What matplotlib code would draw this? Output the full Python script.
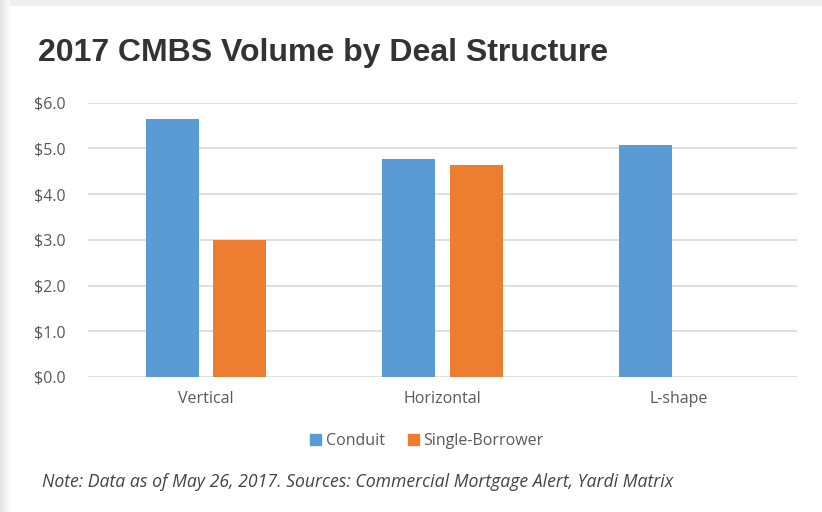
import numpy as np
import matplotlib
matplotlib.use("Agg")
import matplotlib.pyplot as plt
from matplotlib.patches import Rectangle, Patch

# data (billions USD)
categories = ["Vertical", "Horizontal", "L-shape"]
conduit = [5.64, 4.77, 5.07]
single_borrower = [3.0, 4.63, np.nan]
yticks = [0, 1, 2, 3, 4, 5, 6]

blue = "#5B9BD5"
orange = "#ED7D31"
grid_col = "#D9D9D9"
tick_col = "#595959"

fig = plt.figure(figsize=(8.22, 5.12), dpi=100)
fig.patch.set_facecolor("white")

# card shadow at top and left
fig.patches.append(Rectangle((0, 1 - 6 / 512), 1, 6 / 512, transform=fig.transFigure,
                             facecolor="#EFEFEF", edgecolor="none", zorder=0))
for i, c in enumerate(["#E4E4E4", "#EAEAEA", "#EFEFEF", "#F4F4F4", "#F8F8F8"]):
    fig.patches.append(Rectangle((i * 2 / 822, 0), 2 / 822, 1, transform=fig.transFigure,
                                 facecolor=c, edgecolor="none", zorder=0))

ax = fig.add_axes([88 / 822, 1 - 377 / 512, (797 - 88) / 822, (377 - 102.7) / 512])

x = np.arange(len(categories))
w = 0.225
gap = 0.06
ax.bar(x - (w + gap) / 2, conduit, w, color=blue, zorder=3)
ax.bar(x + (w + gap) / 2, single_borrower, w, color=orange, zorder=3)

ax.set_xlim(-0.5, len(categories) - 0.5)
ax.set_ylim(0, 6)
ax.set_yticks(yticks)
ax.set_yticklabels([f"${v:.1f}" for v in yticks], fontsize=11.5, color=tick_col,
                   family="Open Sans")
ax.set_xticks(x)
ax.set_xticklabels(categories, fontsize=11.5, color=tick_col, family="Open Sans")
ax.tick_params(axis="y", length=0, pad=16)
ax.tick_params(axis="x", length=0, pad=10)
ax.grid(axis="y", color=grid_col, linewidth=1.2, zorder=0)
for s in ax.spines.values():
    s.set_visible(False)
ax.set_facecolor("none")

fig.text(38 / 822, 1 - 53 / 512, "2017 CMBS Volume by Deal Structure",
         fontsize=23, fontweight="bold", color="#333333", family="Liberation Sans",
         va="center", ha="left")

handles = [Patch(color=blue, label="Conduit"), Patch(color=orange, label="Single-Borrower")]
fig.legend(handles=handles, loc="center", bbox_to_anchor=(427 / 822, 1 - 441 / 512),
           ncol=2, frameon=False, prop={"family": "Open Sans", "size": 11.5},
           labelcolor=tick_col, handlelength=0.7, handleheight=0.7,
           handletextpad=0.3, columnspacing=1.4)

fig.text(42 / 822, 1 - 482 / 512,
         "Note: Data as of May 26, 2017. Sources: Commercial Mortgage Alert, Yardi Matrix",
         fontsize=12.7, style="italic", color="#444444", family="Open Sans",
         va="center", ha="left")

fig.savefig("out.png", dpi=100)
